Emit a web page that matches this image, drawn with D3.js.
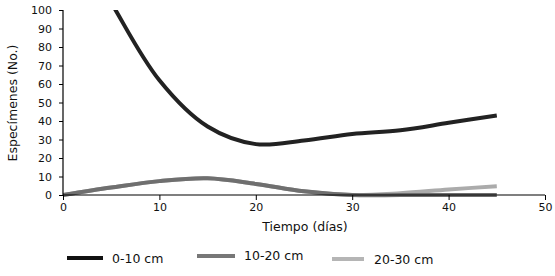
<!DOCTYPE html>
<html><head><meta charset="utf-8">
<script src="https://cdn.jsdelivr.net/npm/d3@7/dist/d3.min.js"></script>
<style>body{margin:0;background:#fff}svg{display:block}text{font-family:"DejaVu Sans",Verdana,sans-serif;fill:#111}</style>
</head><body><svg id="c" width="555" height="276"></svg>
<script>
const days = [0, 5, 10, 15, 20, 25, 30, 35, 40, 45];
const s0_10 = [150, 104, 62, 37, 27.5, 29.5, 33, 35, 39, 43];
const s10_20 = [0, 4, 7.5, 9, 6, 2, 0, 0, 0, 0];
const s20_30 = [0, 4, 7.5, 9, 6, 2, 0, 1, 3, 4.7];
const seriesNames = ["0-10 cm", "10-20 cm", "20-30 cm"];
const xTicks = [0, 10, 20, 30, 40, 50];
const yTicks = [0, 10, 20, 30, 40, 50, 60, 70, 80, 90, 100];

const svg = d3.select("#c");
const x = d3.scaleLinear().domain([0, 50]).range([63, 545]);
const y = d3.scaleLinear().domain([0, 100]).range([195, 10]);

svg.append("defs").append("clipPath").attr("id", "clip")
  .append("rect").attr("x", 63).attr("y", 10).attr("width", 482).attr("height", 190);

const line = d3.line().x((d, i) => x(days[i])).y(d => y(d)).curve(d3.curveCatmullRom.alpha(0.5));
const styles = [
  {data: s20_30, color: "#ababab", w: 4},
  {data: s10_20, color: "#6f6f6f", w: 4},
  {data: s0_10, color: "#222222", w: 4}
];
const g = svg.append("g").attr("clip-path", "url(#clip)");
styles.forEach(s => {
  g.append("path").attr("d", line(s.data)).attr("fill", "none")
    .attr("stroke", s.color).attr("stroke-width", s.w).attr("stroke-linecap", "butt");
});

// axes
const xa = svg.append("g").attr("transform", "translate(0,195)")
  .call(d3.axisBottom(x).tickValues(xTicks).tickSize(5).tickPadding(3));
const ya = svg.append("g").attr("transform", "translate(63,0)")
  .call(d3.axisLeft(y).tickValues(yTicks).tickSize(4).tickPadding(7));
[xa, ya].forEach(a => {
  a.select(".domain").attr("stroke", "#000").attr("stroke-width", 1.2);
  a.selectAll(".tick line").attr("stroke", "#000");
  a.selectAll("text").style("font-family", "'DejaVu Sans',Verdana,sans-serif").style("font-size", "11px").attr("fill", "#111");
});
xa.select(".domain").attr("d", "M63,0H545");
ya.select(".domain").attr("d", "M0,195V10");

svg.append("text").attr("x", 305).attr("y", 231).attr("text-anchor", "middle")
  .style("font-size", "12.5px").text("Tiempo (días)");
svg.append("text").attr("transform", "translate(17,103) rotate(-90)").attr("text-anchor", "middle")
  .style("font-size", "12.5px").text("Especímenes (No.)");

// legend
const leg = [
  {x1: 67, x2: 103, ly: 258, tx: 112, ty: 263, color: "#111", w: 4},
  {x1: 197, x2: 235, ly: 256, tx: 244, ty: 260, color: "#777", w: 4},
  {x1: 332, x2: 364, ly: 259, tx: 374, ty: 264, color: "#b5b5b5", w: 4}
];
leg.forEach((l, i) => {
  svg.append("line").attr("x1", l.x1).attr("x2", l.x2).attr("y1", l.ly).attr("y2", l.ly)
    .attr("stroke", l.color).attr("stroke-width", l.w);
  svg.append("text").attr("x", l.tx).attr("y", l.ty).style("font-size", "12.5px").text(seriesNames[i]);
});
</script></body></html>
